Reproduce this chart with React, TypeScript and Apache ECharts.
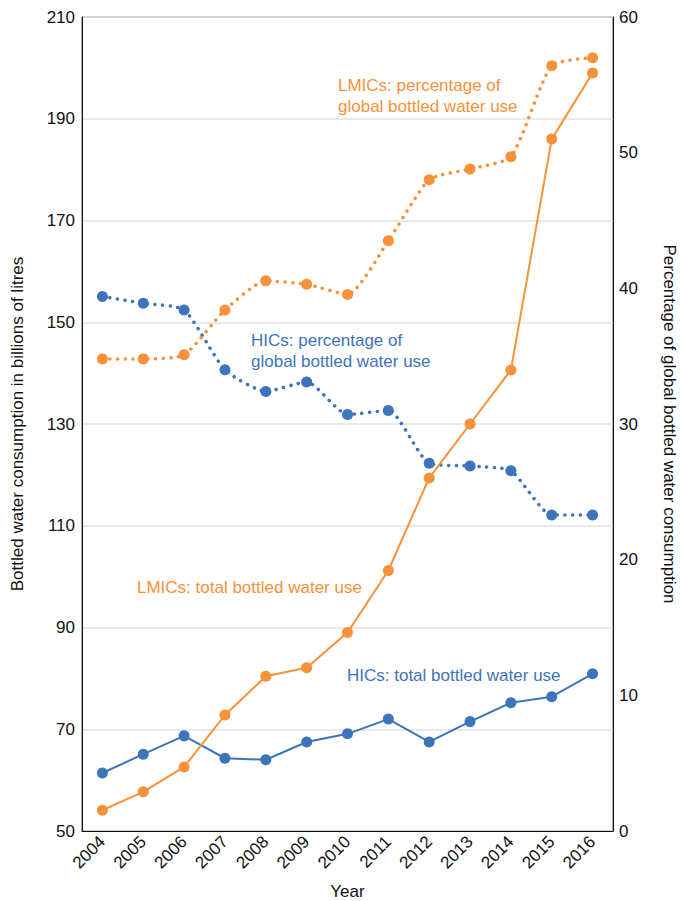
import React, { useEffect, useRef } from "react";
import * as echarts from "echarts";

const years = ["2004", "2005", "2006", "2007", "2008", "2009", "2010", "2011", "2012", "2013", "2014", "2015", "2016"];
const hicTotal = [61.4, 65.1, 68.7, 64.3, 64.0, 67.5, 69.1, 72.0, 67.5, 71.5, 75.2, 76.4, 80.9];
const lmicTotal = [54.1, 57.7, 62.6, 72.8, 80.4, 82.1, 89.0, 101.2, 119.4, 130.0, 140.6, 186.0, 199.0];
const lmicPct = [34.8, 34.8, 35.1, 38.4, 40.55, 40.3, 39.55, 43.5, 48.0, 48.8, 49.7, 56.4, 57.0];
const hicPct = [39.4, 38.9, 38.4, 34.0, 32.4, 33.1, 30.7, 31.0, 27.1, 26.9, 26.55, 23.3, 23.3];

const BLUE = "#3d74ba";
const ORANGE = "#f7913a";
const FONT = "Liberation Sans";
const FS = 17;

export default function App() {
  const ref = useRef<HTMLDivElement>(null);
  useEffect(() => {
    if (!ref.current) return;
    const chart = echarts.init(ref.current, undefined, { renderer: "svg" });
    const solid = (color: string) => ({ color, width: 2 });
    const dotted = (color: string) => ({ color, width: 3.5, type: [0.1, 7.5], cap: "round" as const });
    const txt = (left: number, top: number, text: string, fill: string) => ({
      type: "text",
      left,
      top,
      style: { text, fill, fontSize: FS, fontFamily: FONT, lineHeight: 21 },
    });
    chart.setOption({
      animation: false,
      textStyle: { fontFamily: FONT },
      grid: {
        left: 82,
        right: 67,
        top: 17,
        bottom: 70,
        containLabel: false,
        outerBoundsMode: "none",
        show: true,
        borderColor: "#555",
        borderWidth: 1,
      },
      xAxis: {
        type: "category",
        data: years,
        boundaryGap: true,
        name: "Year",
        nameLocation: "middle",
        nameGap: 52,
        nameTextStyle: { color: "#111", fontSize: FS, fontFamily: FONT },
        axisLine: { lineStyle: { color: "#111", width: 1 } },
        axisTick: { show: false },
        axisLabel: { rotate: 45, color: "#111", fontSize: FS, margin: 8, fontFamily: FONT },
      },
      yAxis: [
        {
          type: "value",
          min: 50,
          max: 210,
          interval: 20,
          position: "left",
          name: "Bottled water consumption in billions of litres",
          nameLocation: "middle",
          nameGap: 56,
          nameTextStyle: { color: "#111", fontSize: FS, fontFamily: FONT },
          axisLine: { show: true, lineStyle: { color: "#111", width: 1 } },
          axisTick: { show: false },
          axisLabel: { color: "#111", fontSize: FS, margin: 7, fontFamily: FONT },
          splitLine: { show: true, lineStyle: { color: "#e2e2e2", width: 1.5 } },
        },
        {
          type: "value",
          min: 0,
          max: 60,
          interval: 10,
          position: "right",
          name: "Percentage of global bottled water consumption",
          nameLocation: "middle",
          nameRotate: -90,
          nameGap: 48,
          nameTextStyle: { color: "#111", fontSize: FS, fontFamily: FONT },
          axisLine: { show: true, lineStyle: { color: "#111", width: 1 } },
          axisTick: { show: false },
          axisLabel: { color: "#111", fontSize: FS, margin: 6, fontFamily: FONT },
          splitLine: { show: false },
        },
      ],
      series: [
        {
          name: "HICs: percentage of global bottled water use",
          type: "line",
          yAxisIndex: 1,
          data: hicPct,
          smooth: 0.2,
          symbol: "circle",
          symbolSize: 11,
          itemStyle: { color: BLUE },
          lineStyle: dotted(BLUE),
        },
        {
          name: "LMICs: percentage of global bottled water use",
          type: "line",
          yAxisIndex: 1,
          data: lmicPct,
          smooth: 0.2,
          symbol: "circle",
          symbolSize: 11,
          itemStyle: { color: ORANGE },
          lineStyle: dotted(ORANGE),
        },
        {
          name: "HICs: total bottled water use",
          type: "line",
          yAxisIndex: 0,
          data: hicTotal,
          symbol: "circle",
          symbolSize: 11,
          itemStyle: { color: BLUE },
          lineStyle: solid(BLUE),
        },
        {
          name: "LMICs: total bottled water use",
          type: "line",
          yAxisIndex: 0,
          data: lmicTotal,
          symbol: "circle",
          symbolSize: 11,
          itemStyle: { color: ORANGE },
          lineStyle: solid(ORANGE),
        },
      ],
      graphic: [
        txt(338, 75, "LMICs: percentage of\nglobal bottled water use", ORANGE),
        txt(251, 330, "HICs: percentage of\nglobal bottled water use", BLUE),
        txt(137, 577, "LMICs: total bottled water use", ORANGE),
        txt(347, 665, "HICs: total bottled water use", BLUE),
      ],
    });
    return () => chart.dispose();
  }, []);
  return <div ref={ref} style={{ position: "absolute", left: 0, top: 0, width: 680, height: 901 }} />;
}
